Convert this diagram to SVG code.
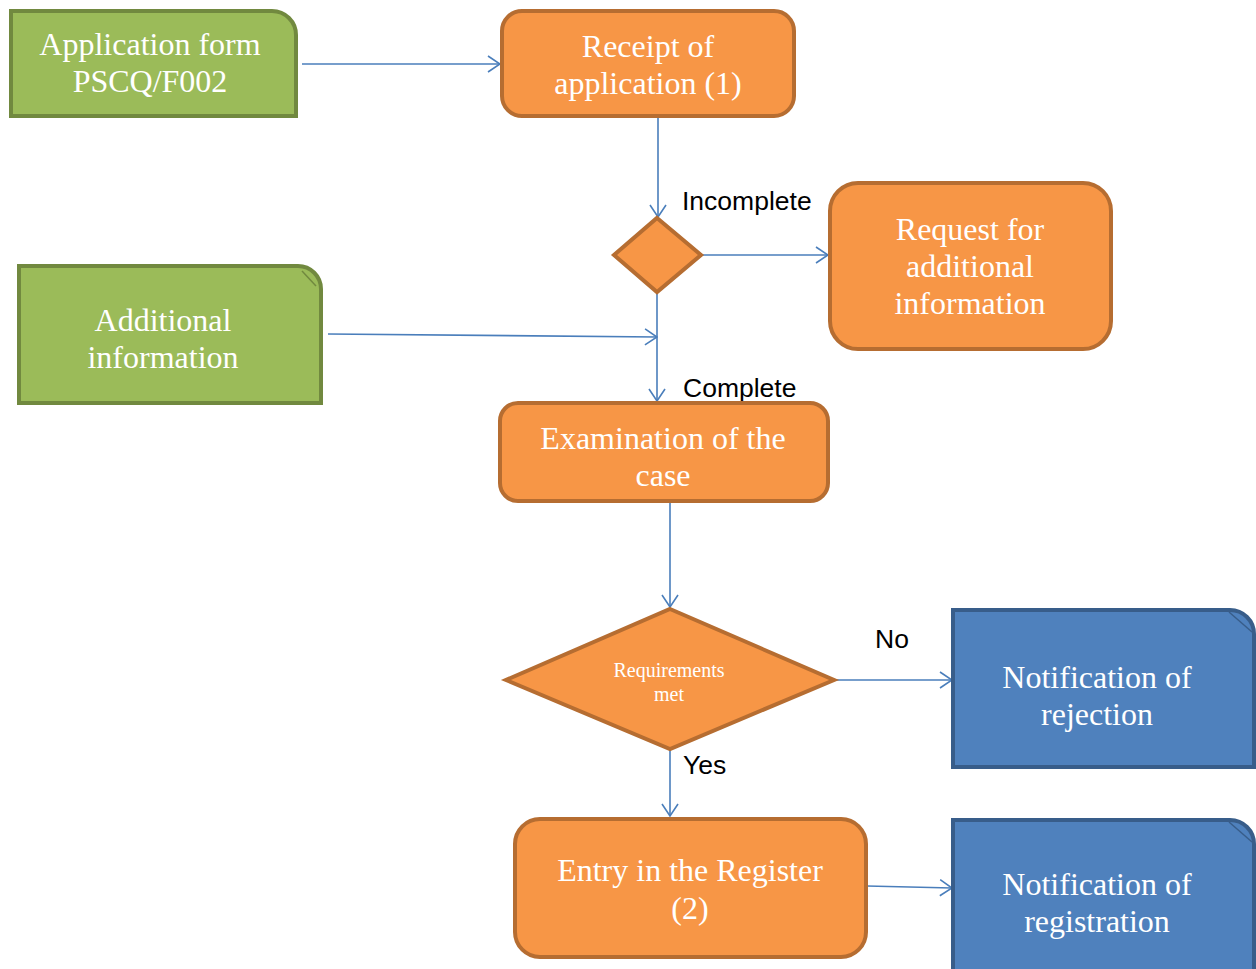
<svg xmlns="http://www.w3.org/2000/svg" width="1256" height="969" viewBox="0 0 1256 969">
<defs>
<marker id="arr" markerWidth="14" markerHeight="18" refX="13" refY="9" orient="auto" markerUnits="userSpaceOnUse">
<path d="M1,1 L13,9 L1,17" fill="none" stroke="#4A7EBB" stroke-width="1.6"/>
</marker>
</defs>
<style>
.green{fill:#9BBB59;stroke:#71893F;stroke-width:4}
.orange{fill:#F79646;stroke:#B66D31;stroke-width:4}
.blue{fill:#4F81BD;stroke:#385D8A;stroke-width:4}
.t{font-family:"Liberation Serif","Times New Roman",serif;fill:#fff;text-anchor:middle;font-size:32px}
.lbl{font-family:"Liberation Sans",Arial,sans-serif;fill:#000;font-size:26.5px}
.c{fill:none;stroke:#4A7EBB;stroke-width:1.6;marker-end:url(#arr)}
.corner{fill:none;stroke-width:1.5}
</style>
<g id="connectors">
<line class="c" x1="302" y1="64" x2="500" y2="64"/>
<line class="c" x1="658" y1="117" x2="658" y2="217"/>
<line class="c" x1="702" y1="255" x2="828" y2="255"/>
<line class="c" x1="657" y1="293" x2="657" y2="401"/>
<line class="c" x1="328" y1="334" x2="657" y2="337"/>
<line class="c" x1="670" y1="502" x2="670" y2="607"/>
<line class="c" x1="835" y1="680" x2="952" y2="680"/>
<line class="c" x1="670" y1="750" x2="670" y2="816"/>
<line class="c" x1="867" y1="886" x2="952" y2="888"/>
</g>
<g id="labels">
<text class="lbl" x="682" y="210">Incomplete</text>
<text class="lbl" x="683" y="397">Complete</text>
<text class="lbl" x="875" y="648">No</text>
<text class="lbl" x="683" y="774">Yes</text>
</g>
<g id="application-form">
<path class="green" d="M11,11 H272 A24,24 0 0 1 296,35 V116 H11 Z"/>
<text class="t" x="150" y="55">Application form</text>
<text class="t" x="150" y="92">PSCQ/F002</text>
</g>
<g id="receipt">
<rect class="orange" x="502" y="11" width="292" height="105" rx="20"/>
<text class="t" x="648" y="57">Receipt of</text>
<text class="t" x="648" y="94">application (1)</text>
</g>
<g id="decision-complete">
<path class="orange" d="M657,218 L701,255 L657,292 L614,255 Z"/>
</g>
<g id="request">
<rect class="orange" x="830" y="183" width="281" height="166" rx="28"/>
<text class="t" x="970" y="240">Request for</text>
<text class="t" x="970" y="277">additional</text>
<text class="t" x="970" y="314">information</text>
</g>
<g id="additional-info">
<path class="green" d="M19,266 H298 A23,23 0 0 1 321,289 V403 H19 Z"/>
<line class="corner" stroke="#71893F" x1="302" y1="271" x2="316" y2="286"/>
<text class="t" x="163" y="331">Additional</text>
<text class="t" x="163" y="368">information</text>
</g>
<g id="examination">
<rect class="orange" x="500" y="403" width="328" height="98" rx="18"/>
<text class="t" x="663" y="449">Examination of the</text>
<text class="t" x="663" y="486">case</text>
</g>
<g id="decision-requirements">
<path class="orange" d="M670,609 L834,680 L670,749 L506,680 Z"/>
<text class="t" style="font-size:20px" x="669" y="677">Requirements</text>
<text class="t" style="font-size:20px" x="669" y="701">met</text>
</g>
<g id="rejection">
<path class="blue" d="M953,610 H1230 A24,24 0 0 1 1254,634 V767 H953 Z"/>
<line class="corner" stroke="#385D8A" x1="1229" y1="612" x2="1252" y2="632"/>
<text class="t" x="1097" y="688">Notification of</text>
<text class="t" x="1097" y="725">rejection</text>
</g>
<g id="entry">
<rect class="orange" x="515" y="819" width="351" height="138" rx="25"/>
<text class="t" x="690" y="881">Entry in the Register</text>
<text class="t" x="690" y="919">(2)</text>
</g>
<g id="registration">
<path class="blue" d="M953,820 H1230 A24,24 0 0 1 1254,844 V975 H953 Z"/>
<line class="corner" stroke="#385D8A" x1="1229" y1="822" x2="1252" y2="842"/>
<text class="t" x="1097" y="895">Notification of</text>
<text class="t" x="1097" y="932">registration</text>
</g>
</svg>
